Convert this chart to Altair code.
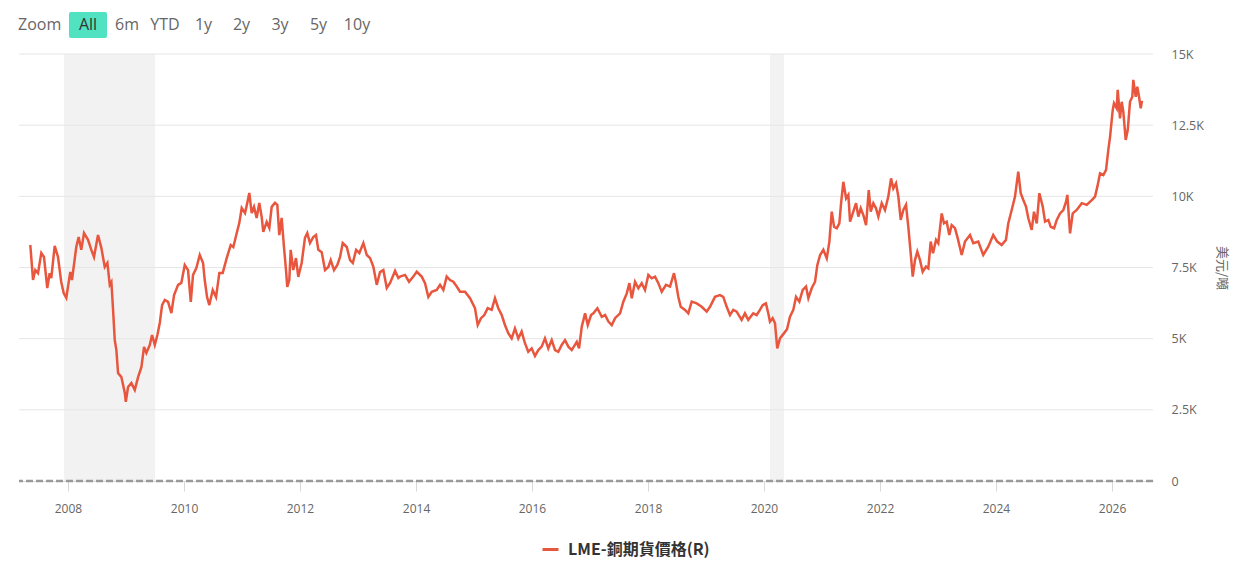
import altair as alt
import pandas as pd
import numpy as np

# ---------------- data ----------------
series_name = "LME-銅期貨價格(R)"
y_title = "美元/噸"

years = [
    2007.350, 2007.397, 2007.436, 2007.483, 2007.540, 2007.586, 2007.643, 2007.684, 2007.712, 2007.771,
    2007.828, 2007.884, 2007.926, 2007.971, 2008.000, 2008.040, 2008.069, 2008.143, 2008.184, 2008.229,
    2008.276, 2008.345, 2008.402, 2008.448, 2008.517, 2008.574, 2008.633, 2008.678, 2008.719, 2008.747,
    2008.776, 2008.805, 2008.833, 2008.862, 2008.919, 2008.978, 2008.995, 2009.034, 2009.091, 2009.150,
    2009.207, 2009.264, 2009.310, 2009.350, 2009.409, 2009.448, 2009.495, 2009.540, 2009.581, 2009.621,
    2009.667, 2009.724, 2009.781, 2009.828, 2009.897, 2009.953, 2010.012, 2010.069, 2010.116, 2010.155,
    2010.212, 2010.271, 2010.328, 2010.357, 2010.397, 2010.436, 2010.495, 2010.552, 2010.609, 2010.667,
    2010.736, 2010.805, 2010.850, 2010.909, 2010.953, 2010.995, 2011.052, 2011.091, 2011.126, 2011.167,
    2011.207, 2011.253, 2011.298, 2011.340, 2011.367, 2011.426, 2011.471, 2011.512, 2011.569, 2011.609,
    2011.643, 2011.684, 2011.724, 2011.759, 2011.781, 2011.816, 2011.840, 2011.884, 2011.931, 2011.971,
    2012.029, 2012.086, 2012.126, 2012.172, 2012.229, 2012.276, 2012.316, 2012.374, 2012.431, 2012.488,
    2012.529, 2012.586, 2012.643, 2012.690, 2012.736, 2012.805, 2012.862, 2012.909, 2012.966, 2013.022,
    2013.091, 2013.150, 2013.207, 2013.264, 2013.322, 2013.379, 2013.436, 2013.495, 2013.552, 2013.638,
    2013.695, 2013.724, 2013.810, 2013.879, 2013.953, 2014.012, 2014.098, 2014.155, 2014.212, 2014.271,
    2014.357, 2014.414, 2014.471, 2014.529, 2014.586, 2014.643, 2014.702, 2014.759, 2014.845, 2014.931,
    2015.017, 2015.064, 2015.121, 2015.178, 2015.236, 2015.305, 2015.362, 2015.419, 2015.478, 2015.534,
    2015.591, 2015.650, 2015.707, 2015.764, 2015.822, 2015.879, 2015.936, 2015.995, 2016.052, 2016.109,
    2016.167, 2016.224, 2016.281, 2016.340, 2016.397, 2016.453, 2016.512, 2016.569, 2016.626, 2016.684,
    2016.771, 2016.810, 2016.857, 2016.914, 2016.960, 2017.017, 2017.057, 2017.126, 2017.202, 2017.259,
    2017.316, 2017.374, 2017.431, 2017.517, 2017.574, 2017.633, 2017.678, 2017.719, 2017.776, 2017.833,
    2017.891, 2017.948, 2018.005, 2018.064, 2018.121, 2018.178, 2018.236, 2018.310, 2018.379, 2018.448,
    2018.483, 2018.522, 2018.564, 2018.638, 2018.695, 2018.753, 2018.840, 2018.926, 2019.012, 2019.069,
    2019.155, 2019.241, 2019.298, 2019.357, 2019.414, 2019.471, 2019.529, 2019.615, 2019.672, 2019.729,
    2019.816, 2019.874, 2019.931, 2019.978, 2020.034, 2020.074, 2020.103, 2020.150, 2020.190, 2020.229,
    2020.276, 2020.333, 2020.397, 2020.448, 2020.505, 2020.552, 2020.609, 2020.667, 2020.724, 2020.764,
    2020.822, 2020.879, 2020.919, 2020.966, 2021.022, 2021.081, 2021.126, 2021.150, 2021.167, 2021.207,
    2021.253, 2021.298, 2021.328, 2021.367, 2021.414, 2021.453, 2021.483, 2021.529, 2021.586, 2021.626,
    2021.667, 2021.712, 2021.759, 2021.805, 2021.840, 2021.884, 2021.931, 2021.971, 2022.029, 2022.086,
    2022.143, 2022.190, 2022.229, 2022.276, 2022.316, 2022.357, 2022.402, 2022.448, 2022.488, 2022.529,
    2022.564, 2022.603, 2022.643, 2022.690, 2022.736, 2022.793, 2022.833, 2022.874, 2022.914, 2022.966,
    2023.005, 2023.064, 2023.103, 2023.150, 2023.195, 2023.236, 2023.293, 2023.340, 2023.409, 2023.466,
    2023.552, 2023.609, 2023.695, 2023.781, 2023.867, 2023.953, 2024.022, 2024.098, 2024.172, 2024.212,
    2024.271, 2024.328, 2024.384, 2024.426, 2024.471, 2024.517, 2024.557, 2024.615, 2024.655, 2024.702,
    2024.747, 2024.805, 2024.845, 2024.902, 2024.943, 2025.000, 2025.047, 2025.103, 2025.160, 2025.207,
    2025.229, 2025.276, 2025.322, 2025.391, 2025.478, 2025.564, 2025.650, 2025.707, 2025.747, 2025.793,
    2025.850, 2025.897, 2025.936, 2025.966, 2026.012, 2026.034, 2026.081, 2026.098, 2026.138, 2026.167,
    2026.195, 2026.236, 2026.271, 2026.310, 2026.350, 2026.367, 2026.409, 2026.436, 2026.466, 2026.495,
    2026.517,
]

prices = [
    8290, 7060, 7410, 7300, 8010, 7870, 6780, 7300, 7130, 8260,
    7870, 6990, 6600, 6430, 6820, 7340, 7060, 8220, 8570, 8120,
    8710, 8470, 8120, 7870, 8640, 8190, 7520, 7660, 6890, 6990,
    6010, 4950, 4600, 3790, 3650, 3090, 2780, 3300, 3440, 3200,
    3650, 4000, 4710, 4500, 4780, 5130, 4780, 5130, 5550, 6180,
    6360, 6290, 5900, 6530, 6890, 6960, 7590, 7410, 6290, 7240,
    7480, 7940, 7660, 7060, 6460, 6180, 6710, 6460, 7310, 7310,
    7830, 8290, 8220, 8710, 9060, 9590, 9410, 9770, 10120, 9410,
    9630, 9240, 9770, 9270, 8750, 9100, 8890, 9630, 9770, 9700,
    8640, 9240, 8220, 7410, 6820, 7060, 8120, 7410, 7830, 7170,
    7660, 8540, 8710, 8360, 8570, 8640, 8120, 8040, 7410, 7520,
    7760, 7410, 7590, 7870, 8360, 8220, 7760, 7660, 8120, 8010,
    8360, 7940, 7830, 7520, 6890, 7340, 7410, 6780, 6960, 7380,
    7130, 7180, 7240, 7000, 7180, 7350, 7180, 6950, 6470, 6650,
    6710, 6890, 6710, 7180, 7060, 7000, 6830, 6650, 6650, 6420,
    6070, 5480, 5720, 5830, 6070, 6010, 6420, 6070, 5830, 5480,
    5190, 5010, 5360, 5010, 5250, 4840, 4540, 4660, 4390, 4600,
    4720, 5010, 4660, 4950, 4600, 4540, 4780, 4950, 4720, 4600,
    4890, 4660, 5420, 5890, 5480, 5830, 5890, 6070, 5770, 5830,
    5600, 5480, 5720, 5890, 6300, 6590, 6950, 6420, 7000, 6770,
    6950, 6710, 7240, 7120, 7180, 6950, 6650, 6890, 6830, 7300,
    6950, 6470, 6120, 6010, 5890, 6300, 6240, 6120, 5950, 6120,
    6470, 6530, 6470, 6120, 5830, 6010, 5950, 5660, 5890, 5660,
    5890, 5830, 6010, 6180, 6240, 5890, 5600, 5720, 5540, 4660,
    5010, 5160, 5330, 5770, 6010, 6470, 6300, 6710, 6830, 6420,
    6770, 7000, 7590, 7940, 8120, 7820, 8410, 9050, 9460, 8930,
    8880, 9050, 9760, 10510, 9930, 10050, 9110, 9400, 9760, 9290,
    9580, 9340, 8990, 10220, 9460, 9760, 9580, 9290, 9760, 9520,
    9990, 10630, 10280, 10460, 9990, 9170, 9520, 9700, 8930, 8000,
    7180, 7760, 8060, 7760, 7350, 7530, 7470, 8410, 8000, 8470,
    8350, 9400, 9050, 9110, 8640, 8990, 8880, 8530, 7940, 8410,
    8640, 8350, 8410, 7940, 8230, 8640, 8410, 8290, 8470, 9050,
    9520, 9990, 10870, 10110, 9870, 9640, 9230, 8820, 9460, 9050,
    10110, 9640, 9110, 9170, 8930, 8880, 9170, 9400, 9520, 9810,
    10050, 8700, 9400, 9520, 9760, 9700, 9870, 9990, 10340, 10810,
    10750, 10930, 11630, 12090, 13030, 13270, 13090, 13740, 12740, 13320,
    12970, 11980, 12330, 13320, 13500, 14090, 13500, 13850, 13500, 13090,
    13360,
]

# recession bands (decimal years)
band_start = [2007.931, 2020.103]
band_end = [2009.500, 2020.345]

x_domain_years = [2007.155, 2026.707]
x_tick_years = list(range(2008, 2027, 2))
y_ticks = [0, 2500, 5000, 7500, 10000, 12500, 15000]
zoom_caption = "Zoom"
zoom_buttons = ["All", "6m", "YTD", "1y", "2y", "3y", "5y", "10y"]


def dec_to_ts(d):
    y = int(np.floor(d))
    start = pd.Timestamp(year=y, month=1, day=1)
    end = pd.Timestamp(year=y + 1, month=1, day=1)
    return (start + (end - start) * (d - y)).round("h")


def to_dt(d):
    t = dec_to_ts(d)
    return alt.DateTime(year=t.year, month=t.month, date=t.day, hours=t.hour)


df = pd.DataFrame({
    "date": [dec_to_ts(v) for v in years],
    "price": prices,
    "series": series_name,
})
bands = pd.DataFrame({
    "start": [dec_to_ts(v) for v in band_start],
    "end": [dec_to_ts(v) for v in band_end],
})
grid = pd.DataFrame({"v": y_ticks[1:]})
zero = pd.DataFrame({"v": [0]})

W, H = 1134, 427

x_scale = alt.Scale(domain=[to_dt(x_domain_years[0]), to_dt(x_domain_years[1])])
y_scale = alt.Scale(domain=[0, 15000], nice=False, zero=True)

LABEL_FONT = "Open Sans"
CJK_FONT = "Noto Sans CJK TC"

x_axis = alt.Axis(
    title=None,
    orient="bottom",
    values=[alt.DateTime(year=y, month=1, date=1) for y in x_tick_years],
    format="%Y",
    grid=False,
    domain=True,
    domainColor="#d8d8d8",
    ticks=True,
    tickColor="#d8d8d8",
    tickSize=10,
    labelPadding=12,
    labelFont=LABEL_FONT,
    labelFontSize=12,
    labelColor="#666666",
)
y_axis = alt.Axis(
    orient="right",
    values=y_ticks,
    labelExpr="datum.value == 0 ? '0' : (datum.value / 1000) + 'K'",
    grid=False,
    domain=False,
    ticks=False,
    labelPadding=18,
    labelFont=LABEL_FONT,
    labelFontSize=12.5,
    labelColor="#666666",
    labelBaseline="middle",
    title=y_title,
    titleFont=CJK_FONT,
    titleFontSize=13,
    titleFontWeight="normal",
    titleColor="#666666",
    titleAngle=90,
    titleX=68,
    titleY=H / 2,
    titleAlign="center",
    titleBaseline="middle",
)

band_layer = alt.Chart(bands).mark_rect(color="#f2f2f2").encode(
    x=alt.X("start:T", scale=x_scale, axis=x_axis),
    x2="end:T",
    y=alt.value(0),
    y2=alt.value(H),
)

grid_layer = alt.Chart(grid).mark_rule(color="#e6e6e6", strokeWidth=1).encode(
    y=alt.Y("v:Q", scale=y_scale, axis=y_axis),
)

line_layer = alt.Chart(df).mark_line(strokeWidth=2.5, interpolate="linear").encode(
    x=alt.X("date:T", scale=x_scale, axis=x_axis),
    y=alt.Y("price:Q", scale=y_scale, axis=y_axis),
    color=alt.Color(
        "series:N",
        scale=alt.Scale(range=["#E8563E"]),
        legend=alt.Legend(
            title=None,
            orient="none",
            legendX=522,
            legendY=486,
            direction="horizontal",
            symbolType="stroke",
            symbolSize=256,
            symbolStrokeWidth=3,
            labelFont=CJK_FONT,
            labelFontSize=16,
            labelFontWeight="bold",
            labelColor="#333333",
            labelOffset=8,
            padding=0,
        ),
    ),
)

zero_layer = alt.Chart(zero).mark_rule(color="#999999", strokeWidth=2.5, strokeDash=[7, 3]).encode(
    y=alt.Y("v:Q", scale=y_scale, axis=y_axis),
)

one_row = alt.Data(values=[{}])
ui_layers = [
    alt.Chart(one_row).mark_text(
        align="left", baseline="middle", font=LABEL_FONT, fontSize=16, color="#666666"
    ).encode(x=alt.value(-1), y=alt.value(25 - 54), text=alt.value(zoom_caption)),
    alt.Chart(one_row).mark_rect(color="#50E2C1", cornerRadius=2).encode(
        x=alt.value(69 - 19), x2=alt.value(107 - 19), y=alt.value(12 - 54), y2=alt.value(38 - 54)
    ),
]
btn_centers = [88, 127, 165, 203.5, 241.5, 280, 318.5, 357]
for lab, cx in zip(zoom_buttons, btn_centers):
    ui_layers.append(
        alt.Chart(one_row).mark_text(
            align="center", baseline="middle", font=LABEL_FONT, fontSize=16,
            color="#333333" if lab == "All" else "#666666",
        ).encode(x=alt.value(cx - 19), y=alt.value(25 - 54), text=alt.value(lab))
    )

chart = alt.layer(band_layer, grid_layer, line_layer, zero_layer, *ui_layers).properties(
    width=W,
    height=H,
    padding={"left": 11, "top": 46, "right": 90, "bottom": 80},
    autosize=alt.AutoSizeParams(type="none"),
    background="white",
).configure_view(stroke=None)

chart.save("out.html", embed_options={"renderer": "svg", "actions": False})
